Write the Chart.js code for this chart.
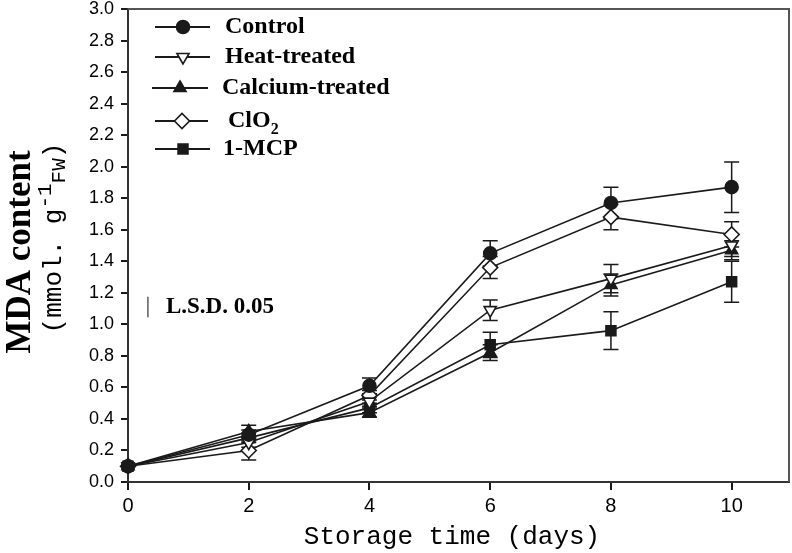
<!DOCTYPE html>
<html><head><meta charset="utf-8">
<script src="https://cdn.jsdelivr.net/npm/chart.js@4/dist/chart.umd.min.js"></script>
<style>html,body{margin:0;padding:0;background:#fff}#wrap{width:792px;height:553px}</style>
</head><body><div id="wrap"><canvas id="c" width="792" height="553"></canvas></div>
<script>
const days = [0, 2, 4, 6, 8, 10];
const xTickValues = [0, 2, 4, 6, 8, 10];
const seriesNames = ['Control', 'Heat-treated', 'Calcium-treated', 'ClO2', '1-MCP'];
const control = [0.10, 0.30, 0.61, 1.45, 1.77, 1.87];
const heat = [0.10, 0.25, 0.51, 1.09, 1.29, 1.50];
const calcium = [0.10, 0.32, 0.44, 0.82, 1.25, 1.47];
const clo2 = [0.10, 0.20, 0.55, 1.36, 1.68, 1.57];
const mcp = [0.10, 0.28, 0.47, 0.87, 0.96, 1.27];
const controlErr = [0, 0.03, 0.05, 0.08, 0.10, 0.16];
const heatErr = [0, 0.03, 0.03, 0.065, 0.09, 0.07];
const calciumErr = [0, 0.04, 0.03, 0.05, 0.07, 0.06];
const clo2Err = [0, 0.06, 0.03, 0.07, 0.08, 0.08];
const mcpErr = [0, 0.03, 0.03, 0.08, 0.12, 0.13];
const lsd = {x: 0.33, y: 1.11, len: 0.13, label: 'L.S.D. 0.05'};

const INK = '#1a1a1a';
const styles = [
  {pointStyle: 'circle', rotation: 0, radius: 6.5, fill: INK},
  {pointStyle: 'triangle', rotation: 180, radius: 7, fill: '#fff'},
  {pointStyle: 'triangle', rotation: 0, radius: 7, fill: INK},
  {pointStyle: 'rectRot', rotation: 0, radius: 7.5, fill: '#fff'},
  {pointStyle: 'rect', rotation: 0, radius: 7, fill: INK}
];
const values = [control, heat, calcium, clo2, mcp];
const errs = [controlErr, heatErr, calciumErr, clo2Err, mcpErr];

const datasets = values.map((vals, i) => ({
  label: seriesNames[i],
  data: days.map((d, j) => ({x: d, y: vals[j]})),
  err: errs[i],
  borderColor: INK,
  borderWidth: 1.6,
  backgroundColor: styles[i].fill,
  pointBackgroundColor: styles[i].fill,
  pointBorderColor: INK,
  pointBorderWidth: 1.6,
  pointStyle: styles[i].pointStyle,
  pointRotation: styles[i].rotation,
  pointRadius: styles[i].radius,
  tension: 0,
  fill: false,
  clip: false
}));

const errorBars = {
  id: 'errorBars',
  beforeDatasetsDraw(chart) {
    const ctx = chart.ctx, xs = chart.scales.x, ys = chart.scales.y;
    ctx.save();
    ctx.strokeStyle = INK; ctx.lineWidth = 1.5;
    chart.data.datasets.forEach(ds => {
      ds.data.forEach((p, j) => {
        const e = ds.err[j];
        if (!e) return;
        const px = xs.getPixelForValue(p.x);
        const top = ys.getPixelForValue(p.y + e), bot = ys.getPixelForValue(p.y - e);
        ctx.beginPath();
        ctx.moveTo(px, top); ctx.lineTo(px, bot);
        ctx.moveTo(px - 7.5, top); ctx.lineTo(px + 7.5, top);
        ctx.moveTo(px - 7.5, bot); ctx.lineTo(px + 7.5, bot);
        ctx.stroke();
      });
    });
    ctx.restore();
  }
};

const decor = {
  id: 'decor',
  afterDraw(chart) {
    const ctx = chart.ctx, a = chart.chartArea, xs = chart.scales.x, ys = chart.scales.y;
    ctx.save();
    ctx.strokeStyle = '#555'; ctx.lineWidth = 2;
    ctx.beginPath();
    ctx.moveTo(a.left, a.top); ctx.lineTo(a.right, a.top); ctx.lineTo(a.right, a.bottom);
    ctx.stroke();
    const legendRows = [
      {y: 27, x0: 155, x1: 210, mx: 183, tx: 225},
      {y: 57, x0: 155, x1: 210, mx: 183, tx: 225},
      {y: 88, x0: 152, x1: 208, mx: 180, tx: 222},
      {y: 121, x0: 155, x1: 208, mx: 182, tx: 228},
      {y: 149, x0: 155, x1: 210, mx: 183, tx: 223}
    ];
    ctx.textBaseline = 'middle'; ctx.textAlign = 'left';
    legendRows.forEach((r, i) => {
      ctx.strokeStyle = INK; ctx.lineWidth = 2;
      ctx.beginPath(); ctx.moveTo(r.x0, r.y); ctx.lineTo(r.x1, r.y); ctx.stroke();
      ctx.fillStyle = styles[i].fill; ctx.strokeStyle = INK; ctx.lineWidth = 1.6;
      Chart.helpers.drawPoint(ctx, {pointStyle: styles[i].pointStyle, rotation: styles[i].rotation, radius: styles[i].radius, borderWidth: 1.6}, r.mx, r.y);
      ctx.fillStyle = '#000';
      ctx.font = 'bold 24px "Liberation Serif", "DejaVu Serif", serif';
      if (seriesNames[i] === 'ClO2') {
        ctx.fillText('ClO', r.tx, r.y);
        const w = ctx.measureText('ClO').width;
        ctx.font = 'bold 16px "Liberation Serif", serif';
        ctx.fillText('2', r.tx + w, r.y + 9);
      } else {
        ctx.fillText(seriesNames[i], r.tx, r.y);
      }
    });
    const lx = xs.getPixelForValue(lsd.x);
    ctx.strokeStyle = '#333'; ctx.lineWidth = 1.2;
    ctx.beginPath();
    ctx.moveTo(lx, ys.getPixelForValue(lsd.y + lsd.len / 2));
    ctx.lineTo(lx, ys.getPixelForValue(lsd.y - lsd.len / 2));
    ctx.stroke();
    ctx.fillStyle = '#000';
    ctx.font = 'bold 23px "Liberation Serif", serif';
    ctx.fillText(lsd.label, lx + 18, ys.getPixelForValue(lsd.y));
    ctx.textAlign = 'center'; ctx.textBaseline = 'middle';
    ctx.font = '26px "Liberation Mono", "DejaVu Sans Mono", monospace';
    ctx.fillText('Storage time (days)', 452, 537);
    ctx.save();
    ctx.translate(21, 252); ctx.rotate(-Math.PI / 2);
    ctx.font = 'bold 35px "Liberation Serif", serif';
    ctx.fillText('MDA content', 0, 0);
    ctx.restore();
    ctx.save();
    ctx.translate(54, 238); ctx.rotate(-Math.PI / 2);
    ctx.textAlign = 'left'; ctx.textBaseline = 'middle';
    const big = '26px "Liberation Mono", monospace', small = '21px "Liberation Mono", monospace';
    ctx.font = big; const w1 = ctx.measureText('(mmol. g').width; const w4 = ctx.measureText(')').width;
    ctx.font = small; const w2 = ctx.measureText('-1').width; const w3 = ctx.measureText('FW').width;
    let x = -(w1 + w2 + w3 + w4) / 2;
    ctx.font = big; ctx.fillText('(mmol. g', x, 0); x += w1;
    ctx.font = small; ctx.fillText('-1', x, -9); x += w2;
    ctx.fillText('FW', x, 5); x += w3;
    ctx.font = big; ctx.fillText(')', x, 0);
    ctx.restore();
    ctx.restore();
  }
};

new Chart(document.getElementById('c'), {
  type: 'line',
  data: {datasets},
  options: {
    responsive: false,
    animation: false,
    layout: {autoPadding: false, padding: {left: 0, top: 9, right: 3, bottom: 0}},
    plugins: {legend: {display: false}, tooltip: {enabled: false}},
    scales: {
      x: {
        type: 'linear', min: 0, max: 10.95,
        afterBuildTicks: s => { s.ticks = xTickValues.map(v => ({value: v})); },
        afterFit: s => { s.height = 71; s.paddingLeft = 0; s.paddingRight = 0; },
        grid: {drawOnChartArea: false, drawTicks: true, tickLength: 8, color: INK, lineWidth: 2},
        border: {color: '#333', width: 2},
        ticks: {color: '#000', padding: 4, maxRotation: 0, font: {family: '"Liberation Sans Narrow", "Liberation Sans", sans-serif', size: 20}}
      },
      y: {
        min: 0, max: 3,
        afterFit: s => { s.width = 128; s.paddingTop = 0; s.paddingBottom = 0; },
        grid: {drawOnChartArea: false, drawTicks: true, tickLength: 7, color: INK, lineWidth: 2},
        border: {color: '#333', width: 2},
        ticks: {stepSize: 0.2, color: '#000', padding: 7, font: {family: '"Liberation Sans", Arial, sans-serif', size: 18}, callback: v => v.toFixed(1)}
      }
    }
  },
  plugins: [errorBars, decor]
});
</script></body></html>
